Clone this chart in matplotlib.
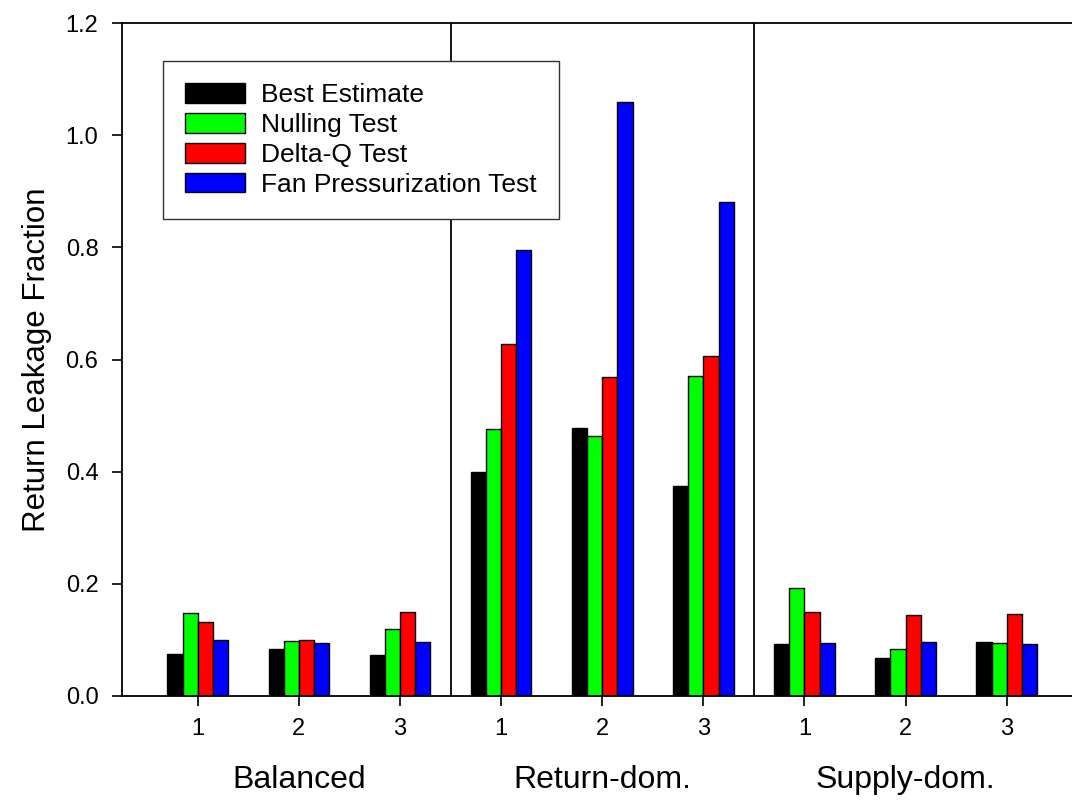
import matplotlib
matplotlib.use("Agg")
import matplotlib.pyplot as plt
import numpy as np

plt.rcParams['font.family'] = ['Liberation Sans', 'DejaVu Sans']

groups = ["Balanced", "Return-dom.", "Supply-dom."]
tick_labels = ["1", "2", "3"] * 3
series_names = ["Best Estimate", "Nulling Test", "Delta-Q Test", "Fan Pressurization Test"]
colors = ["#000000", "#00ff00", "#ff0000", "#0000ff"]

best_estimate = [0.074, 0.084, 0.073, 0.400, 0.478, 0.375, 0.093, 0.067, 0.097]
nulling_test = [0.148, 0.098, 0.120, 0.476, 0.464, 0.570, 0.192, 0.083, 0.095]
delta_q_test = [0.132, 0.100, 0.150, 0.628, 0.569, 0.606, 0.149, 0.145, 0.147]
fan_press_test = [0.100, 0.095, 0.097, 0.795, 1.060, 0.880, 0.095, 0.096, 0.093]
series = [best_estimate, nulling_test, delta_q_test, fan_press_test]

fig = plt.figure(figsize=(10.72, 8), dpi=100)
ax = fig.add_axes([122/1072, 104/800, 960.5/1072, 673/800])

x = np.arange(1, 10)
w = 0.15
for i, (vals, name, c) in enumerate(zip(series, series_names, colors)):
    ax.bar(x + (i - 1.5) * w, vals, width=w, color=c, edgecolor='black',
           linewidth=1.0, label=name, zorder=2)

for sep in (3.5, 6.5):
    ax.axvline(sep, color='black', linewidth=1.3, zorder=3)

ax.set_xlim(0.25, 9.75)
ax.set_ylim(0, 1.2)
ax.set_yticks(np.arange(0, 1.21, 0.2))
ax.set_yticklabels([f"{v:.1f}" for v in np.arange(0, 1.21, 0.2)])
ax.set_xticks(x)
ax.set_xticklabels(tick_labels)
ax.tick_params(axis='both', direction='out', length=7, width=1.2, labelsize=17, pad=10)
ax.tick_params(axis='x', pad=9)

for s in ax.spines.values():
    s.set_linewidth(1.3)
ax.spines['right'].set_visible(False)

ax.set_ylabel("Return Leakage Fraction", fontsize=22.5, labelpad=10)

for gi, g in enumerate(groups):
    ax.text(2 + 3 * gi, -0.149, g, transform=ax.transData, ha='center', va='center',
            fontsize=23, clip_on=False)

leg = ax.legend(loc='upper left', bbox_to_anchor=(41/960.5, 1 - 38/673), fontsize=19,
                frameon=True, fancybox=False, edgecolor='#333333', framealpha=1,
                handlelength=2.27, handleheight=0.76, handletextpad=0.6,
                labelspacing=0.22, borderpad=0.85, borderaxespad=0)
leg.get_frame().set_linewidth(1.0)

fig.savefig("out.png", dpi=100)
